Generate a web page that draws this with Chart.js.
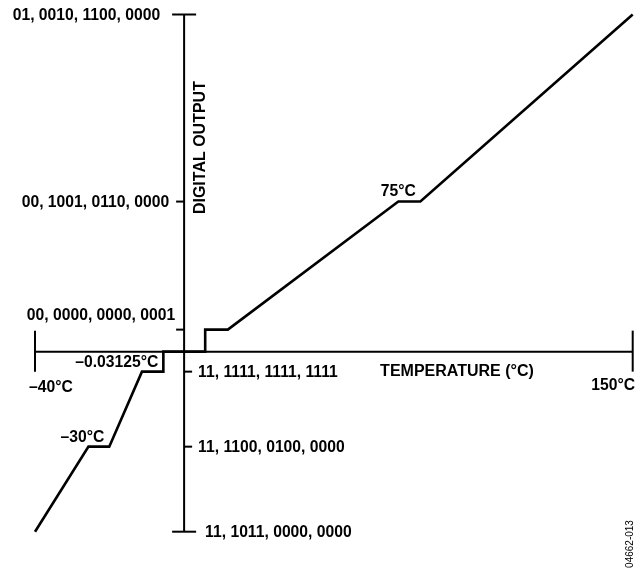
<!DOCTYPE html>
<html>
<head>
<meta charset="utf-8">
<script src="https://cdn.jsdelivr.net/npm/chart.js@4.4.1/dist/chart.umd.min.js"></script>
<style>
  html, body { margin: 0; padding: 0; background: #fff; }
  #wrap { width: 635px; height: 573px; position: relative; }
</style>
</head>
<body>
<div id="wrap"><canvas id="transferChart"></canvas></div>
<script>
// transfer function vertices (schematic, x in temperature-like units, y in output levels)
const tempX = [-40, -23, -16.4, -6, 0.8, 0.8, 14.1, 14.1, 21.3, 75.5, 82.5, 150];
const codeY = [-180, -95, -95, -20, -20, 0, 0, 22, 22, 150, 150, 337];

// digital output levels and their codes
const codeLevels = [337, 150, 22, 0, -20, -95, -180];
const codeLabels = ['01, 0010, 1100, 0000', '00, 1001, 0110, 0000', '00, 0000, 0000, 0001', '',
  '11, 1111, 1111, 1111', '11, 1100, 0100, 0000', '11, 1011, 0000, 0000'];

// temperature axis ends
const tempEnds = [-40, 150];
const tempEndLabels = ['–40°C', '150°C'];
const yAxisAt = 7.4;

// point callouts (index into vertices)
const calloutIdx = [2, 4, 9];
const calloutText = ['–30°C', '–0.03125°C', '75°C'];

const FONT = 'bold 15.7px "Liberation Sans", Arial, sans-serif';

const axesPlugin = {
  id: 'axesPlugin',
  afterDraw(chart) {
    const { ctx, scales: { x, y } } = chart;
    const x0 = x.getPixelForValue(yAxisAt);
    const y0 = y.getPixelForValue(0);
    ctx.save();
    ctx.strokeStyle = '#000';
    ctx.fillStyle = '#000';
    ctx.lineWidth = 2;

    // vertical axis
    ctx.beginPath();
    ctx.moveTo(x0, y.getPixelForValue(codeLevels[0]));
    ctx.lineTo(x0, y.getPixelForValue(codeLevels[codeLevels.length - 1]));
    // horizontal axis
    ctx.moveTo(x.getPixelForValue(tempEnds[0]), y0);
    ctx.lineTo(x.getPixelForValue(tempEnds[1]), y0);
    ctx.stroke();

    // y ticks + labels
    ctx.font = FONT;
    ctx.textBaseline = 'middle';
    codeLevels.forEach((v, i) => {
      if (!codeLabels[i]) return;
      const py = y.getPixelForValue(v);
      const first = i === 0, last = i === codeLevels.length - 1;
      let a = x0, b = x0;
      if (first || last) { a = x0 - 12; b = x0 + 12; }
      else if (v > 0) a = x0 - 8;
      else b = x0 + 8;
      ctx.beginPath();
      ctx.moveTo(a, py);
      ctx.lineTo(b, py);
      ctx.stroke();
      if (first) { ctx.textAlign = 'right'; ctx.fillText(codeLabels[i], a - 12, py + 1); }
      else if (last) { ctx.textAlign = 'left'; ctx.fillText(codeLabels[i], b + 9, py + 1); }
      else if (v > 0 && v < 50) { ctx.textAlign = 'right'; ctx.fillText(codeLabels[i], x0 - 9, py - 14); }
      else if (v > 0) { ctx.textAlign = 'right'; ctx.fillText(codeLabels[i], a - 7, py + 1); }
      else { ctx.textAlign = 'left'; ctx.fillText(codeLabels[i], b + 6, py + 1); }
    });

    // x end ticks + labels
    tempEnds.forEach((t, i) => {
      const px = x.getPixelForValue(t);
      ctx.beginPath();
      ctx.moveTo(px, y0 - 21);
      ctx.lineTo(px, y0 + 20);
      ctx.stroke();
      if (i === 0) { ctx.textAlign = 'left'; ctx.fillText(tempEndLabels[i], px - 6, y0 + 36); }
      else { ctx.textAlign = 'right'; ctx.fillText(tempEndLabels[i], chart.width, y0 + 34); }
    });

    // callouts
    calloutIdx.forEach((k, i) => {
      const px = x.getPixelForValue(tempX[k]);
      const py = y.getPixelForValue(codeY[k]);
      if (i === 2) { ctx.textAlign = 'center'; ctx.fillText(calloutText[i], px, py - 10); }
      else { ctx.textAlign = 'right'; ctx.fillText(calloutText[i], px - 5, py - 9); }
    });

    // axis titles
    ctx.font = 'bold 16px "Liberation Sans", Arial, sans-serif';
    ctx.textAlign = 'left';
    ctx.fillText('TEMPERATURE (°C)', x0 + 196, y0 + 20);
    ctx.save();
    ctx.translate(x0 + 16, y.getPixelForValue(codeLevels[1]) - 54);
    ctx.rotate(-Math.PI / 2);
    ctx.textAlign = 'center';
    ctx.fillText('DIGITAL OUTPUT', 0, 0);
    ctx.restore();

    // figure id
    ctx.save();
    ctx.font = '10px "Liberation Sans", Arial, sans-serif';
    ctx.translate(630, 544);
    ctx.rotate(-Math.PI / 2);
    ctx.textAlign = 'center';
    ctx.fillText('04662-013', 0, 0);
    ctx.restore();

    ctx.restore();
  }
};

const ctxT = document.getElementById('transferChart').getContext('2d');
new Chart(ctxT, {
  type: 'line',
  data: {
    datasets: [{
      label: 'Digital Output',
      data: tempX.map((t, i) => ({ x: t, y: codeY[i] })),
      borderColor: '#000',
      borderWidth: 2.6,
      pointRadius: 0,
      tension: 0,
      fill: false,
      clip: false
    }]
  },
  options: {
    responsive: true,
    maintainAspectRatio: false,
    animation: false,
    layout: { padding: { left: 35, right: 2.3, top: 14.5, bottom: 41.3 } },
    plugins: { legend: { display: false }, tooltip: { enabled: false } },
    scales: {
      x: { type: 'linear', min: -40, max: 150, display: false },
      y: { type: 'linear', min: -180, max: 337, display: false }
    }
  },
  plugins: [axesPlugin]
});
</script>
</body>
</html>
